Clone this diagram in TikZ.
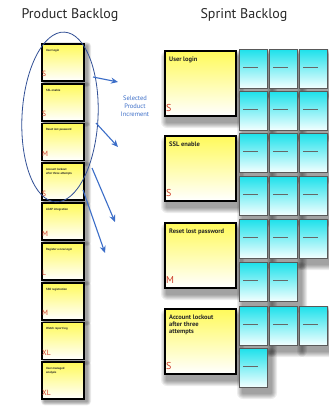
\documentclass[tikz,border=0pt]{standalone}
\usepackage{fontspec}
\setmainfont{PT Sans}
\usetikzlibrary{arrows.meta,shapes.geometric}
\definecolor{ttl}{RGB}{40,40,40}
\definecolor{incblue}{RGB}{60,110,200}
\definecolor{ellblue}{RGB}{50,80,150}
\definecolor{sizered}{RGB}{205,60,40}
\definecolor{cyanA}{RGB}{30,225,235}
\definecolor{pyel}{RGB}{255,250,90}
\newcommand{\mycardshadow}[7]{% x y w h dx dy spread
  \foreach \k in {1,...,6}{
    \fill[black, opacity=0.07, rounded corners=\k*#7/6]
      (#1+#5-\k*#7/6, #2+#6-\k*#7/6) rectangle (#1+#3+#5+\k*#7/6, #2+#4+#6+\k*#7/6);
  }%
}
\tikzset{
  pbcard/.style={draw=black, line width=1.7pt, top color=pyel, bottom color=white, minimum width=42pt, minimum height=37pt, anchor=north west, inner sep=0pt},
  sbcard/.style={draw=black, line width=1.5pt, top color=pyel, bottom color=white, minimum width=71pt, minimum height=65pt, anchor=north west, inner sep=0pt},
  task/.style={draw=black!65, line width=1pt, top color=cyanA, bottom color=cyan!4, minimum width=28pt, minimum height=39pt, anchor=north west, inner sep=0pt},
  pbtext/.style={font=\bfseries\fontsize{3}{3.4}\selectfont, anchor=north west, align=left, inner sep=0pt, text=black!85},
  sbtext/.style={font=\bfseries\fontsize{6.5}{7}\selectfont, anchor=north west, align=left, inner sep=0pt, text=black!85},
  pbsize/.style={font=\fontsize{7.5}{7.5}\selectfont, text=sizered, anchor=south west, inner sep=0pt},
  sbsize/.style={font=\fontsize{10}{10}\selectfont, text=sizered, anchor=south west, inner sep=0pt},
  title/.style={font=\fontsize{14}{14}\selectfont, text=ttl},
  incarrow/.style={draw=incblue, line width=1.1pt, -{Stealth[length=7pt,width=6pt]}},
  scribble/.style={draw=black!60, line width=0.3pt}
}
\begin{document}
\begin{tikzpicture}[x=1pt,y=-1pt]
\useasboundingbox[fill=white] (0,0) rectangle (329,413);
% titles
\node[title] (t1) at (70,15) {Product Backlog};
\node[title] (t2) at (244,15) {Sprint Backlog};
% shadows
\foreach \i in {0,...,8}{
  \pgfmathsetmacro{\yy}{43+39.8*\i}
  \mycardshadow{41}{\yy}{42}{37}{4}{3}{4}
}
\foreach \r/\c in {0/0,0/1,0/2,1/0,1/1,1/2, 2/0,2/1,2/2,3/0,3/1,3/2, 4/0,4/1,4/2,5/0,5/1, 6/0,6/1,6/2,7/0}{
  \pgfmathsetmacro{\xx}{239+30*\c}
  \pgfmathsetmacro{\yt}{{49,91,133,176,219,262,306,348}[\r]}
  \mycardshadow{\xx}{\yt}{28}{39}{4}{6}{6}
}
\foreach \yy in {50,135,222,308}{
  \mycardshadow{164}{\yy}{71}{65}{3}{7}{6}
}
% product backlog cards
\foreach \i/\txt/\sz in {0/User login/S, 1/SSL enable/S, 2/Reset lost password/M, 3/{Account lockout\\after three attempts}/S, 4/LDAP integration/M, 5/Register a new login/L, 6/SSO registration/M, 7/Watch report log/XL, 8/{User managed\\analysis}/XL}{
  \pgfmathsetmacro{\yy}{43+39.8*\i}
  \node[pbcard] (pb\i) at (41,\yy) {};
  \node[pbtext] (pbt\i) at (46,\yy+6) {\txt};
  \node[pbsize] (pbs\i) at (42,\yy+34) {\sz};
}
% ellipse selection
\node[draw=ellblue, line width=0.8pt, ellipse, minimum width=76pt, minimum height=170pt, rotate=-3, inner sep=0pt] (sel) at (60,117) {};
% increment label
\node[font=\fontsize{6.5}{8}\selectfont, text=incblue, align=center] (inc) at (135,106) {Selected\\Product\\Increment};
% arrows
\coordinate (a1s) at (93,77);  \coordinate (a1e) at (118,82);
\coordinate (a2s) at (96,123); \coordinate (a2e) at (118,147);
\coordinate (a3s) at (92,168); \coordinate (a3e) at (115,222);
\coordinate (a4s) at (83,190); \coordinate (a4e) at (105,253);
\draw[incarrow] (a1s) -- (a1e);
\draw[incarrow] (a2s) -- (a2e);
\draw[incarrow] (a3s) -- (a3e);
\draw[incarrow] (a4s) -- (a4e);
% sprint backlog tasks
\foreach \r/\c in {0/0,0/1,0/2,1/0,1/1,1/2, 2/0,2/1,2/2,3/0,3/1,3/2, 4/0,4/1,4/2,5/0,5/1, 6/0,6/1,6/2,7/0}{
  \pgfmathsetmacro{\xx}{239+30*\c}
  \pgfmathsetmacro{\yt}{{49,91,133,176,219,262,306,348}[\r]}
  \node[task] (tk\r\c) at (\xx,\yt) {};
  \draw[scribble] (\xx+4,\yt+18) -- (\xx+19,\yt+18);
}
% sprint backlog stories
\foreach \i/\yy/\txt/\sz in {0/50/User login/S, 1/135/SSL enable/S, 2/222/Reset lost password/M, 3/308/{Account lockout\\after three\\attempts}/S}{
  \node[sbcard] (sb\i) at (164,\yy) {};
  \node[sbtext] (sbt\i) at (169,\yy+7) {\txt};
  \node[sbsize] (sbs\i) at (166,\yy+62) {\sz};
}
\end{tikzpicture}
\end{document}
